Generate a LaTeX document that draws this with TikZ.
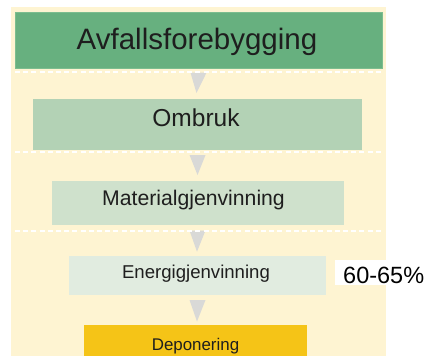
\documentclass[tikz,border=0pt]{standalone}
\usepackage{fontspec}
\setmainfont{Liberation Sans}
\definecolor{bgc}{HTML}{FEF4D2}
\definecolor{c1}{HTML}{67B07F}
\definecolor{c1e}{HTML}{7CBD8F}
\definecolor{c2}{HTML}{B3D2B5}
\definecolor{c3}{HTML}{CFE1CC}
\definecolor{c4}{HTML}{E1ECE0}
\definecolor{c5}{HTML}{F5C417}
\definecolor{tric}{HTML}{D9D9D7}
\definecolor{txt}{HTML}{1E1E1E}
\tikzset{
  box/.style={rectangle, inner sep=0pt, outer sep=0pt},
  lbl/.style={anchor=base, inner sep=0pt, text=txt},
  tri/.style={fill=tric},
  sep/.style={draw=white, line width=2pt, dash pattern=on 5pt off 3.2pt},
}
\begin{document}
\begin{tikzpicture}[x=1pt,y=-1pt]
\useasboundingbox (0,0) rectangle (424,356);
% background
\fill[bgc] (11,7) rectangle (386,356);
% boxes
\node[box, fill=c1, draw=c1e, line width=0.6pt, minimum width=367pt, minimum height=56pt] (b1) at (198.5,40) {};
\node[box, fill=c2, minimum width=329pt, minimum height=51pt] (b2) at (197.5,124.5) {};
\node[box, fill=c3, minimum width=292pt, minimum height=44.3pt] (b3) at (198,202.85) {};
\node[box, fill=c4, minimum width=257pt, minimum height=39pt] (b4) at (197.5,275.5) {};
\node[box, fill=c5, minimum width=223pt, minimum height=32pt] (b5) at (195.5,341) {};
% labels
\node[lbl, font=\fontsize{29.5}{30}\selectfont] (t1) at (197,49.5) {Avfallsforebygging};
\node[lbl, font=\fontsize{24.5}{25}\selectfont] (t2) at (196,126.7) {Ombruk};
\node[lbl, font=\fontsize{21.2}{22}\selectfont] (t3) at (193.5,205) {Materialgjenvinning};
\node[lbl, font=\fontsize{18.6}{19}\selectfont] (t4) at (196,278.3) {Energigjenvinning};
\node[lbl, font=\fontsize{16.9}{17}\selectfont] (t5) at (195.5,350.7) {Deponering};
% arrows (triangles)
\fill[tri] ([xshift=-8pt,yshift=-4.7pt]b1.south) -- ([xshift=8pt,yshift=-4.7pt]b1.south) -- ([xshift=-1pt,yshift=6pt]b2.north) -- cycle;
\fill[tri] ([xshift=-8pt,yshift=-5pt]b2.south) -- ([xshift=8pt,yshift=-5pt]b2.south) -- ([xshift=-0.5pt,yshift=5.7pt]b3.north) -- cycle;
\fill[tri] ([xshift=-8.5pt,yshift=-5.5pt]b3.south) -- ([xshift=7.5pt,yshift=-5.5pt]b3.south) -- ([xshift=-0.5pt,yshift=4.3pt]b4.north) -- cycle;
\fill[tri] ([xshift=-8pt,yshift=-5pt]b4.south) -- ([xshift=8pt,yshift=-5pt]b4.south) -- ([xshift=1.5pt,yshift=3.5pt]b5.north) -- cycle;
% dashed separators
\coordinate (s1l) at (15,72); \coordinate (s1r) at (383,72);
\coordinate (s2l) at (15,152); \coordinate (s2r) at (383,152);
\coordinate (s3l) at (15,231); \coordinate (s3r) at (383,231);
\draw[sep] (s1l) -- (s1r);
\draw[sep] (s2l) -- (s2r);
\draw[sep] (s3l) -- (s3r);
% side label
\node[box, fill=white, minimum width=89pt, minimum height=25pt] (pbox) at (379.5,272.5) {};
\node[anchor=base west, inner sep=0pt, font=\fontsize{23.5}{24}\selectfont] (pct) at (343,283) {60-65\%};
\end{tikzpicture}
\end{document}
